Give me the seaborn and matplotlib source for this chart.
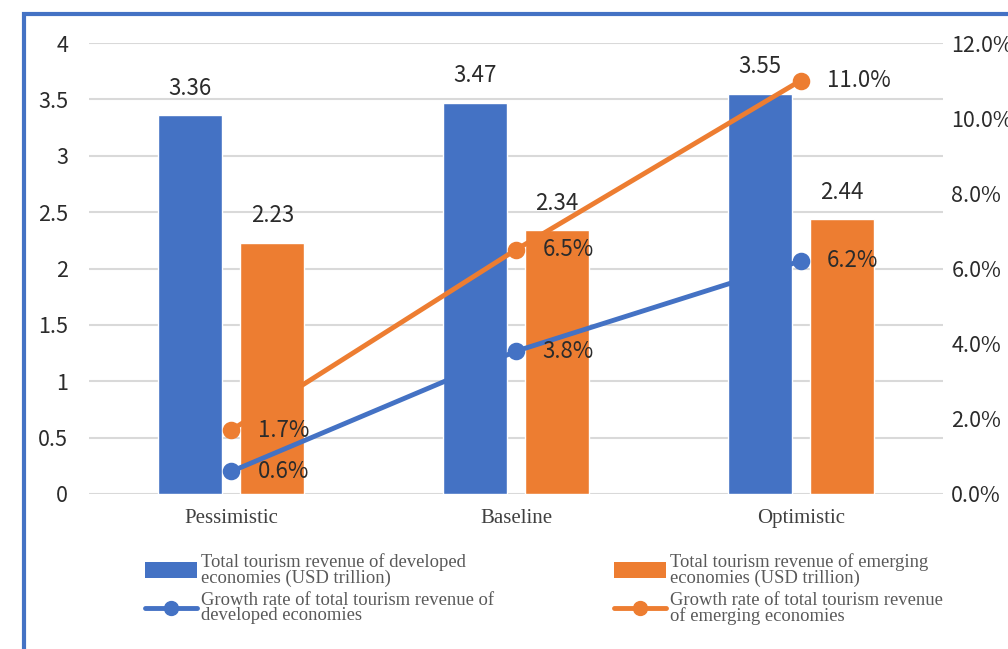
import matplotlib
matplotlib.use("Agg")
import matplotlib.pyplot as plt
import seaborn as sns
import pandas as pd
from matplotlib.patches import Patch, Rectangle
from matplotlib.lines import Line2D
from matplotlib.ticker import PercentFormatter, MultipleLocator

# ---- data ----
scenarios = ["Pessimistic", "Baseline", "Optimistic"]
rev_developed = [3.36, 3.47, 3.55]
rev_emerging = [2.23, 2.34, 2.44]
growth_developed = [0.6, 3.8, 6.2]
growth_emerging = [1.7, 6.5, 11.0]
labels = [
    "Total tourism revenue of developed\neconomies (USD trillion)",
    "Total tourism revenue of emerging\neconomies (USD trillion)",
    "Growth rate of total tourism revenue of\ndeveloped economies",
    "Growth rate of total tourism revenue\nof emerging economies",
]

BLUE = "#4472C4"
ORANGE = "#ED7D31"
NUMFONT = ["Noto Sans CJK SC", "DejaVu Sans"]
SERIF = ["Liberation Serif", "DejaVu Serif"]
TXT = "#2b2b2b"

sns.set_theme(style="white")
plt.rcParams["font.family"] = NUMFONT

df = pd.DataFrame({
    "scenario": scenarios * 2,
    "value": rev_developed + rev_emerging,
    "series": [labels[0]] * 3 + [labels[1]] * 3,
})

fig = plt.figure(figsize=(10.08, 6.49), dpi=100)
ax = fig.add_axes([89 / 1008, 1 - 494 / 649, (943 - 89) / 1008, (494 - 43) / 649])

sns.barplot(data=df, x="scenario", y="value", hue="series", order=scenarios,
            palette=[BLUE, ORANGE], width=0.576, gap=0.22, ax=ax,
            saturation=1, legend=False, errorbar=None)
for cont in ax.containers:
    ax.bar_label(cont, fmt="%.2f", padding=11, fontsize=16, color=TXT,
                 family=NUMFONT)

ax.set_ylim(0, 4)
ax.yaxis.set_major_locator(MultipleLocator(0.5))
ax.yaxis.set_major_formatter(matplotlib.ticker.FuncFormatter(
    lambda v, p: f"{v:g}"))
ax.grid(axis="y", color="#D9D9D9", linewidth=1.5)
ax.set_axisbelow(True)
for s in ax.spines.values():
    s.set_visible(False)
ax.set_xlabel("")
ax.set_ylabel("")
ax.tick_params(axis="y", labelsize=15.5, pad=15, length=0, labelcolor=TXT)
ax.tick_params(axis="x", length=0, pad=11)
for t in ax.get_xticklabels():
    t.set_family(SERIF)
    t.set_fontsize(15)
    t.set_color("#404040")

ax2 = ax.twinx()
for vals, col in [(growth_developed, BLUE), (growth_emerging, ORANGE)]:
    sns.pointplot(x=scenarios, y=vals, order=scenarios, color=col, ax=ax2,
                  markers="o", linewidth=3.5, markersize=10, errorbar=None)
    for i, v in enumerate(vals):
        ax2.annotate(f"{v:.1f}%", (i, v), xytext=(19, 0),
                     textcoords="offset points", va="center", ha="left",
                     fontsize=16, color=TXT, family=NUMFONT)
ax2.set_ylim(0, 12)
ax2.yaxis.set_major_locator(MultipleLocator(2))
ax2.yaxis.set_major_formatter(PercentFormatter(decimals=1))
ax2.tick_params(axis="y", labelsize=15.5, pad=6, length=0, labelcolor=TXT)
for s in ax2.spines.values():
    s.set_visible(False)
ax2.set_ylabel("")
ax2.grid(False)
ax.set_xlim(-0.5, 2.5)

handles = [
    Patch(facecolor=BLUE, edgecolor="none"),
    Line2D([], [], color=BLUE, lw=3.5, marker="o", markersize=10),
    Patch(facecolor=ORANGE, edgecolor="none"),
    Line2D([], [], color=ORANGE, lw=3.5, marker="o", markersize=10),
]
leg_labels = [labels[0], labels[2], labels[1], labels[3]]
leg = fig.legend(handles, leg_labels, loc="upper left",
                 bbox_to_anchor=(138 / 1008, 1 - 546 / 649), ncol=2,
                 frameon=False, prop={"family": SERIF, "size": 13.4},
                 handlelength=2.75, handleheight=0.9, handletextpad=0.25,
                 columnspacing=6.45, labelspacing=0.3, borderaxespad=0)
for t in leg.get_texts():
    t.set_color("#595959")
    t.set_linespacing(0.85)

# outer frame (visible on left and top)
fig.patches.append(Rectangle((23.5 / 1008, -0.1), 1.2, 1.1 - 13.5 / 649,
                             transform=fig.transFigure, fill=False,
                             edgecolor=BLUE, linewidth=3, zorder=10))

fig.savefig("out.png", dpi=100)
